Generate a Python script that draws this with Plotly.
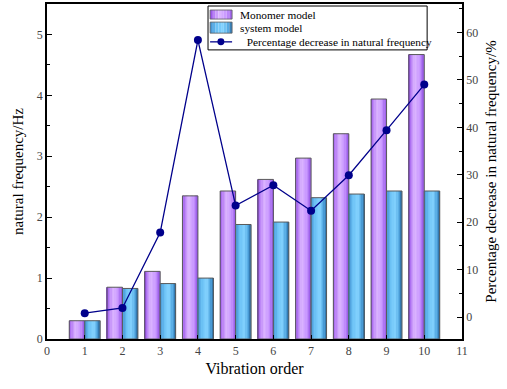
import plotly.graph_objects as go

orders = [1, 2, 3, 4, 5, 6, 7, 8, 9, 10]
monomer = [0.30, 0.85, 1.11, 2.35, 2.43, 2.62, 2.97, 3.37, 3.94, 4.67]
system = [0.30, 0.83, 0.91, 1.00, 1.88, 1.92, 2.32, 2.38, 2.43, 2.43]
pct = [0.8, 1.9, 17.8, 58.4, 23.5, 27.8, 22.4, 29.9, 39.4, 49.0]
x_ticks = list(range(0, 12))
legend_names = ["Monomer model", "system model", "  Percentage decrease in natural frequency"]

FONT = "Liberation Serif"
BW = 0.41
NS = 12
LINE_C = "#00008b"


def hex2rgb(h):
    h = h.lstrip("#")
    return [int(h[i:i + 2], 16) for i in (0, 2, 4)]


def interp(stops, t):
    for (t0, c0), (t1, c1) in zip(stops, stops[1:]):
        if t0 <= t <= t1:
            f = (t - t0) / (t1 - t0) if t1 > t0 else 0
            a, b = hex2rgb(c0), hex2rgb(c1)
            return "rgb(%d,%d,%d)" % tuple(round(a[i] + (b[i] - a[i]) * f) for i in range(3))
    return stops[-1][1]


mono_stops = [(0, "#8a40e2"), (0.15, "#b47af4"), (0.42, "#dcb6ff"), (0.75, "#c796ff"), (1.0, "#9656e6")]
sys_stops = [(0, "#3f8fd0"), (0.3, "#6cc2f5"), (0.6, "#84d3ff"), (0.85, "#4fa4de"), (1.0, "#2a6aa0")]

fig = go.Figure()


def add_series(vals, stops, base_off, name):
    sw = BW / NS
    for i in range(NS):
        t = (i + 0.5) / NS
        fig.add_trace(go.Bar(
            x=orders, y=vals, width=sw, offset=base_off + i * sw,
            marker=dict(color=interp(stops, t), line=dict(width=0)),
            name=name, showlegend=False, hoverinfo="skip"))
    fig.add_trace(go.Bar(
        x=orders, y=vals, width=BW, offset=base_off,
        marker=dict(color="rgba(0,0,0,0)", line=dict(width=1, color="#5a5a5a")),
        name=name, showlegend=False, hoverinfo="skip"))


add_series(monomer, mono_stops, -BW, legend_names[0])
add_series(system, sys_stops, 0.0, legend_names[1])

fig.add_trace(go.Scatter(
    x=orders, y=pct, yaxis="y2", mode="lines+markers",
    line=dict(color=LINE_C, width=1.3),
    marker=dict(color=LINE_C, size=8),
    name=legend_names[2], showlegend=False))

# ---- custom legend (paper coordinates) ----
shapes = [dict(type="rect", xref="paper", yref="paper", x0=0.388, x1=0.916, y0=0.863, y1=0.994,
               fillcolor="white", line=dict(color="black", width=1))]
annotations = []


def swatch(y0, y1, stops):
    x0, x1 = 0.393, 0.446
    n = 8
    for i in range(n):
        shapes.append(dict(type="rect", xref="paper", yref="paper",
                           x0=x0 + (x1 - x0) * i / n, x1=x0 + (x1 - x0) * (i + 1) / n,
                           y0=y0, y1=y1, fillcolor=interp(stops, (i + 0.5) / n), line=dict(width=0)))
    shapes.append(dict(type="rect", xref="paper", yref="paper", x0=x0, x1=x1, y0=y0, y1=y1,
                       line=dict(color="#5a5a5a", width=0.8)))


swatch(0.955, 0.982, mono_stops)
swatch(0.913, 0.946, sys_stops)
shapes.append(dict(type="line", xref="paper", yref="paper", x0=0.393, x1=0.446, y0=0.887, y1=0.887,
                   line=dict(color=LINE_C, width=1.3)))
shapes.append(dict(type="circle", xref="paper", yref="paper", x0=0.4106, x1=0.4274, y0=0.8766, y1=0.8974,
                   fillcolor=LINE_C, line=dict(color=LINE_C, width=0)))
for txt, xx, yy in [(legend_names[0], 0.460, 0.968), (legend_names[1], 0.460, 0.929), (legend_names[2], 0.462, 0.888)]:
    annotations.append(dict(text=txt.replace("  ", "&nbsp;&nbsp;"), xref="paper", yref="paper", x=xx, y=yy,
                            xanchor="left", yanchor="middle", showarrow=False,
                            font=dict(family=FONT, size=11.3, color="black")))

fig.update_layout(
    width=507, height=389,
    margin=dict(l=47, r=45, t=4, b=50),
    barmode="overlay",
    plot_bgcolor="white", paper_bgcolor="white",
    font=dict(family=FONT, size=12, color="#333"),
    showlegend=False,
    shapes=shapes, annotations=annotations,
    xaxis=dict(range=[0, 11], tickmode="array", tickvals=x_ticks, automargin=False,
               showline=True, linecolor="black", linewidth=1.5, mirror=True,
               ticks="inside", ticklen=4, tickcolor="black",
               showgrid=False, zeroline=False,
               tickfont=dict(family=FONT, size=12, color="#444"),
               title=dict(text="Vibration order", font=dict(family=FONT, size=16, color="black"), standoff=6)),
    yaxis=dict(range=[0, 5.5], dtick=1, showline=True, linecolor="black", linewidth=1.5,
               automargin=False,
               ticks="inside", ticklen=5, tickcolor="black",
               minor=dict(dtick=0.5, ticks="inside", ticklen=3, tickcolor="black"),
               showgrid=False, zeroline=False,
               tickfont=dict(family=FONT, size=12, color="#444"),
               title=dict(text="natural frequency/Hz", font=dict(family=FONT, size=15, color="black"), standoff=10)),
    yaxis2=dict(range=[-4.64, 66], dtick=10, overlaying="y", side="right",
                automargin=False,
                showline=True, linecolor="black", linewidth=1.5,
                ticks="inside", ticklen=5, tickcolor="black",
                minor=dict(dtick=5, ticks="inside", ticklen=3, tickcolor="black"),
                showgrid=False, zeroline=False,
                tickfont=dict(family=FONT, size=12, color="#444"),
                title=dict(text="Percentage decrease in natural frequency/%", font=dict(family=FONT, size=15, color="black"), standoff=8)),
)

fig.write_html("out.html", config={"displayModeBar": False},
               post_script="document.body.style.margin='0';")
